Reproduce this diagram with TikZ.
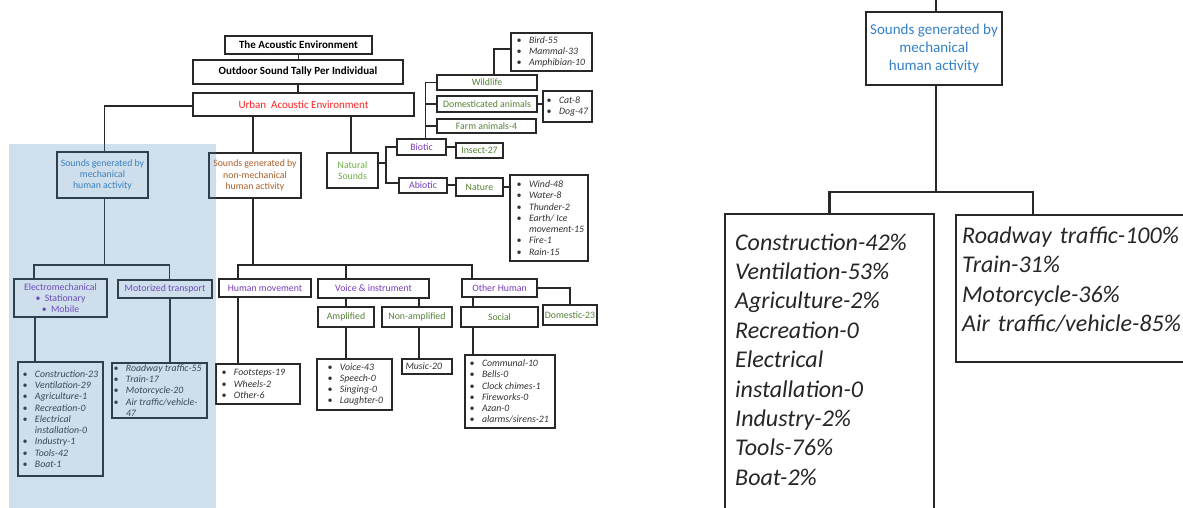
\documentclass[tikz,border=0pt]{standalone}
\usepackage{fontspec}
\setmainfont{Carlito}
\definecolor{boxc}{RGB}{40,40,40}
\definecolor{listc}{RGB}{50,50,50}
\definecolor{mechc}{RGB}{52,128,200}
\definecolor{nmc}{RGB}{170,95,40}
\definecolor{natc}{RGB}{112,173,71}
\definecolor{grn}{RGB}{84,130,53}
\definecolor{purp}{RGB}{120,60,190}
\definecolor{urbc}{RGB}{250,35,35}
\definecolor{bandblue}{RGB}{70,130,180}
\newcommand\bl{\makebox[12.5pt][l]{\textbullet}}
\newcommand\cn{\hspace*{12.5pt}}
\begin{document}
\begin{tikzpicture}[x=1pt,y=-1pt,
  txt/.style={font=\fontsize{9.8}{11.3}\selectfont},
  box/.style={draw=boxc, line width=1.4pt, inner sep=1pt, align=center, fill=white, txt},
  head/.style={box, font=\fontsize{11}{13}\selectfont\bfseries, text=black},
  ltext/.style={inner sep=0pt, align=left, text=listc, font=\fontsize{9.8}{11.3}\selectfont\itshape},
  conn/.style={draw=boxc, line width=1.6pt},
  bigbox/.style={draw=boxc, line width=2.2pt, inner sep=1pt, align=center, fill=white},
  bigtext/.style={inner sep=0pt, align=left, text=black!85, text width=240pt, font=\fontsize{24}{29.4}\selectfont\itshape},
  bigconn/.style={draw=boxc, line width=2.2pt}
]
\useasboundingbox (0,0) rectangle (1183,508);
\clip (0,0) rectangle (1183,508);

% ---------- top of the hierarchy ----------
\node[head, minimum width=147, minimum height=18] (title) at (298.5,45) {The Acoustic Environment};
\node[head, minimum width=210, minimum height=24] (tally) at (298,72) {Outdoor Sound Tally Per Individual};
\node[box, minimum width=221, minimum height=23, text=urbc, font=\fontsize{11}{13}\selectfont] (urban) at (303.5,104.5) {Urban\ \ Acoustic Environment};

% ---------- three source categories ----------
\node[box, minimum width=91, minimum height=46, text=mechc] (mech) at (102.5,175) {Sounds generated by\\mechanical\\human activity};
\node[box, minimum width=92, minimum height=45, text=nmc] (nonmech) at (255,175.5) {Sounds generated by\\non-mechanical\\human activity};
\node[box, minimum width=51, minimum height=35, text=natc] (natural) at (352.5,170.5) {Natural\\Sounds};

% ---------- natural sounds ----------
\node[box, minimum width=49, minimum height=16, text=purp] (biotic) at (421.5,147) {Biotic};
\node[box, minimum width=48, minimum height=15, text=purp] (abiotic) at (423,185.5) {Abiotic};
\node[box, minimum width=47, minimum height=15, text=grn] (insect) at (479.5,150.5) {Insect-27};
\node[box, minimum width=47, minimum height=18, text=grn] (nature) at (479.5,187) {Nature};
\node[box, minimum width=100, minimum height=15, text=grn] (wildlife) at (487,82.5) {Wildlife};
\node[box, minimum width=100, minimum height=16, text=grn] (domestic) at (487,104) {Domesticated animals};
\node[box, minimum width=99, minimum height=14, text=grn] (farm) at (486.5,126) {Farm animals-4};

\node[box, minimum width=81, minimum height=38] (birdlist) at (551.5,52) {};
\node[ltext, anchor=west] (birdlist-t) at ([xshift=6pt]birdlist.west) {\bl Bird-55\\\bl Mammal-33\\\bl Amphibian-10};
\node[box, minimum width=49, minimum height=31] (petlist) at (567.5,106.5) {};
\node[ltext, anchor=west] (petlist-t) at ([xshift=4pt]petlist.west) {\bl Cat-8\\\bl Dog-47};
\node[box, minimum width=78, minimum height=86] (naturelist) at (549,218) {};
\node[ltext, anchor=west] (naturelist-t) at ([xshift=7pt]naturelist.west) {\bl Wind-48\\\bl Water-8\\\bl Thunder-2\\\bl Earth/ Ice\\\cn movement-15\\\bl Fire-1\\\bl Rain-15};

% ---------- mechanical human activity ----------
\node[box, minimum width=93, minimum height=38, text=purp] (elec) at (60.5,298) {Electromechanical\\\textbullet\ \ Stationary\\\textbullet\ \ Mobile};
\node[box, minimum width=94, minimum height=18, text=purp] (motor) at (165,289) {Motorized transport};
\node[box, minimum width=85, minimum height=114] (eleclist) at (60.5,419) {};
\node[ltext, anchor=west] (eleclist-t) at ([xshift=5pt]eleclist.west) {\bl Construction-23\\\bl Ventilation-29\\\bl Agriculture-1\\\bl Recreation-0\\\bl Electrical\\\cn installation-0\\\bl Industry-1\\\bl Tools-42\\\bl Boat-1};
\node[box, minimum width=95, minimum height=55] (motorlist) at (159.5,390.5) {};
\node[ltext, anchor=west] (motorlist-t) at ([xshift=2pt]motorlist.west) {\bl Roadway traffic-55\\\bl Train-17\\\bl Motorcycle-20\\\bl Air traffic/vehicle-\\\cn 47};

% ---------- non-mechanical human activity ----------
\node[box, minimum width=92, minimum height=18, text=purp] (humanmove) at (265,288) {Human movement};
\node[box, minimum width=111, minimum height=19, text=purp] (voice) at (373.5,288.5) {Voice \& instrument};
\node[box, minimum width=75, minimum height=18, text=purp] (otherhuman) at (499.5,288) {Other Human};
\node[box, minimum width=56, minimum height=20, text=grn] (amplified) at (346,317) {Amplified};
\node[box, minimum width=70, minimum height=20, text=grn] (nonamp) at (417,317) {Non-amplified};
\node[box, minimum width=77, minimum height=20, text=grn] (social) at (499.5,317) {Social};
\node[box, minimum width=54, minimum height=20, text=grn] (domestic23) at (570,315) {Domestic-23};

\node[box, minimum width=84, minimum height=40] (movelist) at (258,384) {};
\node[ltext, anchor=west] (movelist-t) at ([xshift=6pt]movelist.west) {\bl Footsteps-19\\\bl Wheels-2\\\bl Other-6};
\node[box, minimum width=75, minimum height=51] (voicelist) at (354.5,384.5) {};
\node[ltext, anchor=west] (voicelist-t) at ([xshift=11pt]voicelist.west) {\bl Voice-43\\\bl Speech-0\\\bl Singing-0\\\bl Laughter-0};
\node[box, minimum width=50, minimum height=15] (music) at (427,366.5) {};
\node[ltext, anchor=west] (music-t) at ([xshift=4pt]music.west) {Music-20};
\node[box, minimum width=90, minimum height=73] (sociallist) at (510,391.5) {};
\node[ltext, anchor=west] (sociallist-t) at ([xshift=5pt]sociallist.west) {\bl Communal-10\\\bl Bells-0\\\bl Clock chimes-1\\\bl Fireworks-0\\\bl Azan-0\\\bl alarms/sirens-21};

% ---------- connectors ----------
\draw[conn] (title.south) -- (title.south |- tally.north);
\draw[conn] (tally.south) -- (tally.south |- urban.north);
\coordinate (mech-in) at ([xshift=2pt]mech.north);
\draw[conn] ([yshift=-1.5pt]urban.west) -| (mech-in);
\coordinate (nm-in) at ([xshift=-2pt]nonmech.north);
\draw[conn] (nm-in) -- (nm-in |- urban.south);
\coordinate (nat-in) at ([xshift=-1.5pt]natural.north);
\draw[conn] (nat-in) -- (nat-in |- urban.south);

\coordinate (nsplit) at (386,163);
\draw[conn] (natural.east |- nsplit) -- (nsplit);
\draw[conn] (biotic.west) -| (nsplit) |- ([yshift=2.5pt]abiotic.west);
\draw[conn] (biotic.east) -- (biotic.east -| insect.west);
\coordinate (trunk) at ([xshift=4pt]biotic.north);
\draw[conn] (wildlife.west) -| (trunk);
\draw[conn] (domestic.west) -- (domestic.west -| trunk);
\draw[conn] (farm.west) -- (farm.west -| trunk);
\coordinate (wl-up) at ([xshift=7pt]wildlife.north);
\draw[conn] (wl-up) |- ([yshift=3pt]birdlist.west);
\draw[conn] (domestic.east) -- (domestic.east -| petlist.west);
\draw[conn] ([yshift=0.5pt]abiotic.east) -- ([yshift=0.5pt]abiotic.east -| nature.west);
\draw[conn] (nature.east) -- (nature.east -| naturelist.west);

% mechanical branch
\coordinate (mbar) at (0,265);
\coordinate (el-top) at ([xshift=-26.5pt]elec.north);
\coordinate (mo-top) at ([xshift=4.5pt]motor.north);
\draw[conn] (mech-in |- mech.south) -- (mech-in |- mbar);
\draw[conn] (el-top) |- (mo-top |- mbar) -- (mo-top);
\coordinate (el-bot) at ([xshift=-25.5pt]elec.south);
\draw[conn] (el-bot) -- (el-bot |- eleclist.north);
\coordinate (mo-bot) at ([xshift=5pt]motor.south);
\draw[conn] (mo-bot) -- (mo-bot |- motorlist.north);

% non-mechanical branch
\coordinate (hm-top) at ([xshift=-27pt]humanmove.north);
\coordinate (vo-top) at ([xshift=-27.5pt]voice.north);
\coordinate (oh-top) at ([xshift=-27.5pt]otherhuman.north);
\draw[conn] (nm-in |- nonmech.south) -- (nm-in |- mbar);
\draw[conn] (hm-top) |- (oh-top |- mbar) -- (oh-top);
\draw[conn] (vo-top) -- (vo-top |- mbar);
\coordinate (hm-bot) at ([xshift=-27pt]humanmove.south);
\draw[conn] (hm-bot) -- (hm-bot |- movelist.north);
\draw[conn] (amplified.north) -- (amplified.north |- voice.south);
\coordinate (na-x) at ([xshift=2pt]nonamp.north);
\draw[conn] (na-x) -- (na-x |- voice.south);
\draw[conn] (amplified.south) -- (amplified.south |- voicelist.north);
\coordinate (na-bot) at ([xshift=2pt]nonamp.south);
\draw[conn] (na-bot) -- (na-bot |- music.north);
\coordinate (so-top) at ([xshift=-26.5pt]social.north);
\draw[conn] (so-top) -- (so-top |- otherhuman.south);
\coordinate (so-bot) at ([xshift=-26.5pt]social.south);
\draw[conn] (so-bot) -- (so-bot |- sociallist.north);
\draw[conn] (otherhuman.east) -| (domestic23.north);

% translucent band over the mechanical branch
\fill[bandblue, fill opacity=0.26] (9,144) rectangle (216,510);

% ---------- enlarged mechanical branch ----------
\node[bigbox, minimum width=136, minimum height=73, text=mechc, font=\fontsize{15}{17.8}\selectfont] (rmech) at (934,48.5) {Sounds generated by\\mechanical\\human activity};
\node[bigbox, minimum width=209, minimum height=316] (rleft) at (829.5,372) {};
\node[bigbox, minimum width=239, minimum height=147] (rright) at (1075.5,288.5) {};
\node[bigtext, anchor=base west] (rleft-t) at (735,250) {Construction-42\%\\Ventilation-53\%\\Agriculture-2\%\\Recreation-0\\Electrical\\installation-0\\Industry-2\%\\Tools-76\%\\Boat-2\%};
\node[bigtext, anchor=base west] (rright-t) at (962,243.5) {Roadway traffic-100\%\\Train-31\%\\Motorcycle-36\%\\Air traffic/vehicle-85\%};

\coordinate (rtop) at (936,0);
\coordinate (rbar) at (0,192);
\draw[bigconn] (rtop) -- (rtop |- rmech.north);
\draw[bigconn] (rtop |- rmech.south) -- (rtop |- rbar);
\coordinate (rr-top) at ([xshift=-42.5pt]rright.north);
\draw[bigconn] (rleft.north) |- (rr-top |- rbar) -- (rr-top);
\end{tikzpicture}
\end{document}
